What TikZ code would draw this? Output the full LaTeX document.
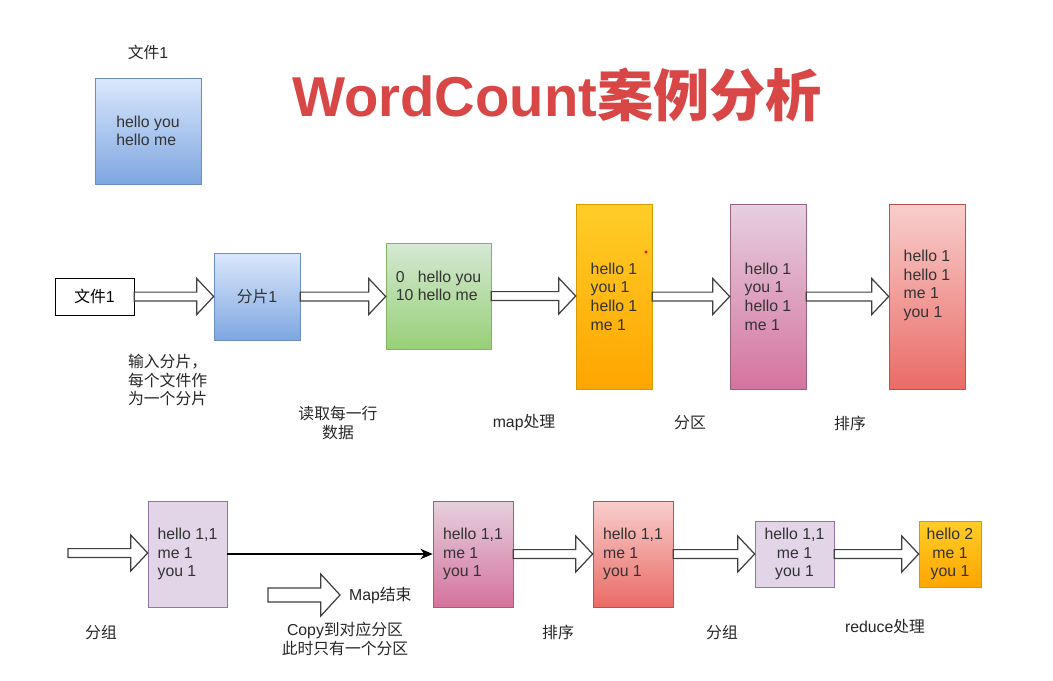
\documentclass[tikz,border=0pt]{standalone}
\usepackage{fontspec}
\setmainfont{Liberation Sans}
\newfontfamily\cjk{Noto Sans CJK SC}
\usetikzlibrary{arrows.meta, positioning, calc}

\definecolor{titlered}{RGB}{216,70,70}
\definecolor{boxtext}{RGB}{51,51,51}
\definecolor{bluetop}{HTML}{DAE8FC}\definecolor{bluebot}{HTML}{7EA6E0}\definecolor{blueline}{HTML}{6C8EBF}
\definecolor{greentop}{HTML}{D5E8D4}\definecolor{greenbot}{HTML}{97D077}\definecolor{greenline}{HTML}{82B366}
\definecolor{orangetop}{HTML}{FFCD28}\definecolor{orangebot}{HTML}{FFA500}\definecolor{orangeline}{HTML}{D79B00}
\definecolor{pinktop}{HTML}{E6D0DE}\definecolor{pinkbot}{HTML}{D5739D}\definecolor{pinkline}{HTML}{996185}
\definecolor{redtop}{HTML}{F8CECC}\definecolor{redbot}{HTML}{EA6B66}\definecolor{redline}{HTML}{B85450}
\definecolor{lilac}{HTML}{E1D5E7}\definecolor{lilacline}{HTML}{9673A6}

\tikzset{
  box/.style={draw, inner sep=2pt, text=boxtext, align=left,
    font=\fontsize{9}{10.6}\selectfont},
  bluebox/.style={box, draw=blueline, top color=bluetop, bottom color=bluebot},
  greenbox/.style={box, draw=greenline, top color=greentop, bottom color=greenbot},
  orangebox/.style={box, draw=orangeline, top color=orangetop, bottom color=orangebot},
  pinkbox/.style={box, draw=pinkline, top color=pinktop, bottom color=pinkbot},
  redbox/.style={box, draw=redline, top color=redtop, bottom color=redbot},
  lilacbox/.style={box, draw=lilacline, fill=lilac},
  tall/.style={minimum width=1.52cm, minimum height=3.7cm},
  square/.style={minimum width=1.58cm, minimum height=2.12cm},
  lbl/.style={font=\fontsize{9}{10.6}\selectfont, text=black!85, align=center, inner sep=1pt},
  fat/.style={draw=black!75, fill=white, line width=0.7pt, line join=miter},
}

% hollow block arrow between two points, drawn at the height of the first one
\newcommand{\fatarrow}[2]{%
  \path[fat] let \p1=#1, \p2=#2 in
    (\x1,\y1+2.5pt) -- (\x2-9.6pt,\y1+2.5pt) -- (\x2-9.6pt,\y1+10.2pt) -- (\x2,\y1)
    -- (\x2-9.6pt,\y1-10.2pt) -- (\x2-9.6pt,\y1-2.5pt) -- (\x1,\y1-2.5pt) -- cycle;}

\begin{document}
\begin{tikzpicture}[x=0.02cm, y=-0.02cm]
\useasboundingbox (0,0) rectangle (1053,680);
% Title
\node[text=titlered, font=\fontsize{32}{36}\selectfont\bfseries] (title) at (557,95)
  {WordCount{\cjk 案例分析}};
% Input file shown at the top
\node[lbl] (fileLbl) at (148,52) {{\cjk 文件}1};
\node[bluebox, minimum width=2.12cm, minimum height=2.12cm] (fileTop) at (148,131)
  {hello you\\hello me};
% Map side: first row
\node[box, draw=black, fill=white, text=black, minimum width=1.58cm, minimum height=0.74cm]
  (file) at (94.5,296.5) {{\cjk 文件}1};
\node[bluebox, minimum width=1.72cm, minimum height=1.74cm] (split) at (257,296.5) {{\cjk 分片}1};
\node[greenbox, minimum width=2.1cm, minimum height=2.12cm] (lines) at (438.5,296)
  {\makebox[1.39em][l]{0}hello you\\10 hello me\\[1pt]};
\node[orangebox, tall] (mapped) at (614,296.5) {hello 1\\you 1\\hello 1\\me 1};
\fill[red] (646,252) circle (1.6);
\node[pinkbox, tall] (parted) at (768,296.5) {hello 1\\you 1\\hello 1\\me 1};
\node[redbox, tall] (sorted) at (927,296.5) {hello 1\\hello 1\\me 1\\you 1\\[4pt]};
\fatarrow{(file.east)}{(split.west)}
\fatarrow{(split.east)}{(lines.west)}
\fatarrow{(lines.east)}{(mapped.west)}
\fatarrow{(mapped.east)}{(parted.west)}
\fatarrow{(parted.east)}{(sorted.west)}
% Captions of the first row
\node[lbl, anchor=west, align=left] (splitLbl) at (126,380)
  {\cjk 输入分片，\\\cjk 每个文件作\\\cjk 为一个分片};
\node[lbl] (readLbl) at (338,423) {\cjk 读取每一行\\\cjk 数据};
\node[lbl] (mapLbl) at (524,423) {map{\cjk 处理}};
\node[lbl] (partLbl) at (690,423) {\cjk 分区};
\node[lbl] (sortLbl) at (850,423) {\cjk 排序};
% Second row: grouping, copy and reduce
\coordinate (inGroup) at (68,553);
\node[lilacbox, square] (grouped) at (187.5,554) {hello 1,1\\me 1\\you 1};
\node[pinkbox, square, minimum width=1.6cm] (copied) at (473,554) {hello 1,1\\me 1\\you 1};
\node[redbox, square, minimum width=1.6cm] (sortedR) at (633,554) {hello 1,1\\me 1\\you 1};
\node[lilacbox, align=center, minimum width=1.58cm, minimum height=1.32cm] (groupedR) at (794.5,554)
  {hello 1,1\\me 1\\you 1};
\node[orangebox, align=center, minimum width=1.24cm, minimum height=1.32cm] (result) at (950,554)
  {hello 2\\me 1\\you 1};
\fatarrow{(inGroup)}{(grouped.west)}
\draw[-{Stealth[length=7pt, width=6pt]}, line width=0.6pt] (grouped.east) -- (copied.west);
\fatarrow{(copied.east)}{(sortedR.west)}
\fatarrow{(sortedR.east)}{(groupedR.west)}
\fatarrow{(groupedR.east)}{(result.west)}
% Map end marker
\coordinate (mapEndA) at (268,595);
\coordinate (mapEndB) at (340,595);
\path[fat] let \p1=(mapEndA), \p2=(mapEndB) in
  (\x1,\y1+4pt) -- (\x2-11pt,\y1+4pt) -- (\x2-11pt,\y1+12pt) -- (\x2,\y1)
  -- (\x2-11pt,\y1-12pt) -- (\x2-11pt,\y1-4pt) -- (\x1,\y1-4pt) -- cycle;
\node[lbl, anchor=west] (mapEnd) at (347,595) {Map{\cjk 结束}};
% Captions of the second row
\node[lbl] (groupLbl) at (101,632) {\cjk 分组};
\node[lbl] (copyLbl) at (345,639) {Copy{\cjk 到对应分区}\\\cjk 此时只有一个分区};
\node[lbl] (sortLblR) at (558,632) {\cjk 排序};
\node[lbl] (groupLblR) at (722,632) {\cjk 分组};
\node[lbl] (reduceLbl) at (885,626) {reduce{\cjk 处理}};
\end{tikzpicture}
\end{document}
